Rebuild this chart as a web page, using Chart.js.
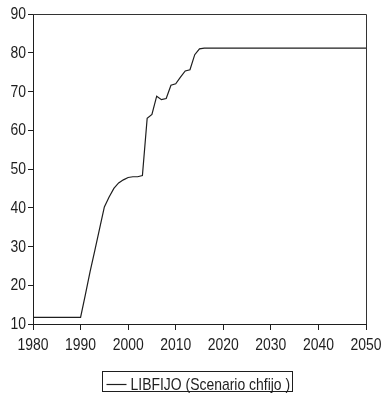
<!DOCTYPE html>
<html>
<head>
<meta charset="utf-8">
<script src="https://cdn.jsdelivr.net/npm/chart.js@4.4.1/dist/chart.umd.min.js"></script>
<style>
  html, body { margin: 0; padding: 0; background: #fff; }
  canvas { display: block; }
</style>
</head>
<body>
<canvas id="chart" width="382" height="403"></canvas>
<script>
// LIBFIJO under scenario chfijo, yearly 1980-2050
const first_year = 1980;
const libfijo = [
    11.7, 11.7, 11.7, 11.7, 11.7, 11.7, 11.7, 11.7, 11.7, 11.7,   // 1980-1989
    11.7, 17.5, 23.5, 29.0, 34.6, 40.2, 42.8, 45.0, 46.4, 47.2,   // 1990-1999
    47.8, 48.0, 48.0, 48.3, 63.1, 64.1, 68.8, 67.9, 68.2, 71.6,   // 2000-2009
    72.0, 73.7, 75.3, 75.6, 79.5, 81.0, 81.2, 81.2, 81.2, 81.2,   // 2010-2019
    81.2, 81.2, 81.2, 81.2, 81.2, 81.2, 81.2, 81.2, 81.2, 81.2,   // 2020-2029
    81.2, 81.2, 81.2, 81.2, 81.2, 81.2, 81.2, 81.2, 81.2, 81.2,   // 2030-2039
    81.2, 81.2, 81.2, 81.2, 81.2, 81.2, 81.2, 81.2, 81.2, 81.2,   // 2040-2049
    81.2                                                          // 2050
];
const years = libfijo.map((v, i) => first_year + i);
const series_label = 'LIBFIJO (Scenario chfijo )';

const x_min = 1980, x_max = 2050, x_step = 10;
const y_min = 10, y_max = 90, y_step = 10;

const font_family = "'Liberation Sans', Arial, sans-serif";
const font_size = 17;
const narrow = 0.82;   // squeeze text horizontally, Arial Narrow style
const ink = '#1e1e1e';

// write text squeezed horizontally, anchored at x
function narrow_text(ctx, text, x, y, align) {
    ctx.save();
    ctx.translate(x, y);
    ctx.scale(narrow, 1);
    ctx.textAlign = align;
    ctx.fillText(text, 0, 0);
    ctx.restore();
}

// tick labels, frame on top/right and the boxed legend under the axis
const frame_and_legend = {
    id: 'frame_and_legend',
    afterDraw(chart) {
        const ctx = chart.ctx;
        const a = chart.chartArea;
        const xs = chart.scales.x;
        const ys = chart.scales.y;
        ctx.save();
        ctx.strokeStyle = '#333';
        ctx.lineWidth = 1;
        ctx.beginPath();
        ctx.moveTo(a.left, a.top + 0.5);
        ctx.lineTo(a.right + 0.5, a.top + 0.5);
        ctx.lineTo(a.right + 0.5, a.bottom);
        ctx.stroke();

        ctx.font = font_size + 'px ' + font_family;
        ctx.fillStyle = ink;
        ctx.textBaseline = 'alphabetic';
        xs.ticks.forEach(t => {
            narrow_text(ctx, String(t.value), xs.getPixelForValue(t.value), a.bottom + 25.5, 'center');
        });
        ctx.textBaseline = 'middle';
        ys.ticks.forEach(t => {
            narrow_text(ctx, String(t.value), a.left - 7, ys.getPixelForValue(t.value) + 0.5, 'right');
        });

        // legend
        const box_x = 102.5, box_y = 371.5, box_w = 190, box_h = 20;
        ctx.strokeStyle = ink;
        ctx.strokeRect(box_x, box_y, box_w, box_h);
        ctx.beginPath();
        ctx.lineWidth = 1.2;
        ctx.moveTo(box_x + 4, box_y + 13);
        ctx.lineTo(box_x + 24, box_y + 13);
        ctx.stroke();
        ctx.textBaseline = 'alphabetic';
        narrow_text(ctx, series_label, box_x + 28, box_y + 18, 'left');
        ctx.restore();
    }
};

new Chart(document.getElementById('chart'), {
    type: 'line',
    data: {
        datasets: [{
            label: series_label,
            data: years.map((yr, i) => ({ x: yr, y: libfijo[i] })),
            borderColor: ink,
            borderWidth: 1.2,
            pointRadius: 0,
            tension: 0,
            fill: false
        }]
    },
    options: {
        responsive: false,
        animation: false,
        devicePixelRatio: 1,
        layout: { padding: { top: 14, right: 16, bottom: 49, left: 0 } },
        plugins: {
            legend: { display: false },
            tooltip: { enabled: false }
        },
        scales: {
            x: {
                type: 'linear',
                min: x_min,
                max: x_max,
                afterFit: (scale) => { scale.height = 30; },
                grid: { drawOnChartArea: false, tickLength: 6, tickColor: ink },
                border: { color: ink, width: 1 },
                ticks: { stepSize: x_step, display: false }
            },
            y: {
                min: y_min,
                max: y_max,
                afterFit: (scale) => { scale.width = 33; },
                grid: { drawOnChartArea: false, tickLength: 5, tickColor: ink },
                border: { color: ink, width: 1 },
                ticks: { stepSize: y_step, display: false }
            }
        }
    },
    plugins: [frame_and_legend]
});
</script>
</body>
</html>
